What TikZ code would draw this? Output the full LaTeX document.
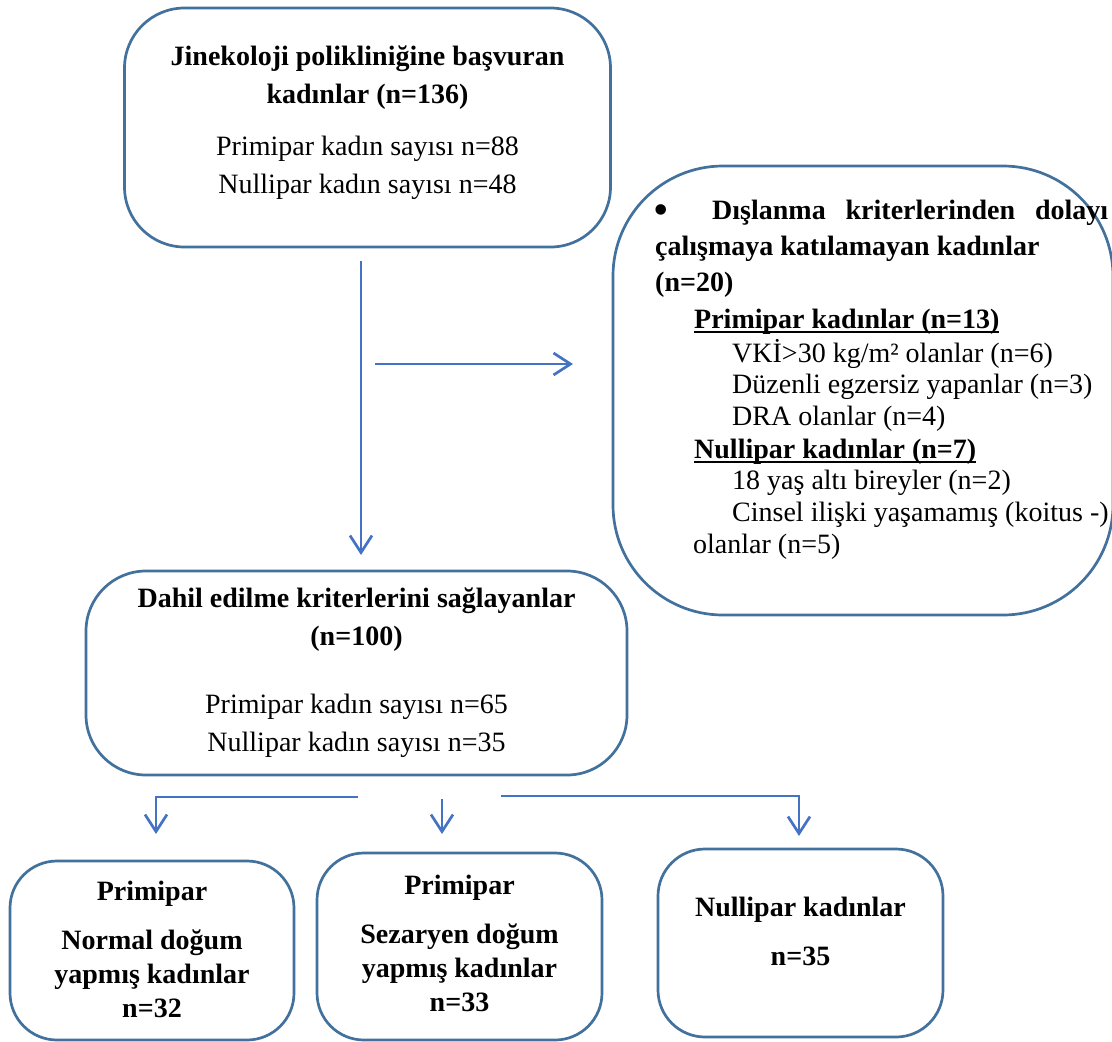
\documentclass[tikz,border=0pt]{standalone}
\usepackage{fontspec}
\setmainfont{Liberation Serif}
\usetikzlibrary{arrows.meta,positioning}
\definecolor{cBox}{HTML}{41719C}
\definecolor{cArr}{HTML}{4472C4}
\tikzset{
  box/.style ={draw=cBox,line width=2.7pt,fill=white,align=center,inner sep=0pt},
  sig/.style ={-{Straight Barb[length=17pt,width=22pt]},draw=cArr,line width=2.7pt},
  lbl/.style ={anchor=base west,inner sep=0pt},
}
\newcommand{\ulbf}[1]{\setbox0\hbox{\bfseries #1}\rlap{\rule[-4.5pt]{\wd0}{1.8pt}}\box0}

\begin{document}
\begin{tikzpicture}[x=1pt,y=-1pt,font=\fontsize{28}{38}\selectfont]
\useasboundingbox (0,0) rectangle (1112,1042);

% ---------------- main boxes ----------------------------------------------
\node[box,minimum width=486pt,minimum height=239pt,rounded corners=60pt,text depth=15pt]
  (apply) at (367.5,127.5)
  {\textbf{Jinekoloji polikliniğine başvuran}\\\textbf{kadınlar (n=136)}\\[14pt]
   Primipar kadın sayısı n=88\\Nullipar kadın sayısı n=48};
\node[box,minimum width=541pt,minimum height=204pt,rounded corners=60pt]
  (incl) at (356.5,673)
  {\textbf{Dahil edilme kriterlerini sağlayanlar}\\\textbf{(n=100)}\\[30pt]
   Primipar kadın sayısı n=65\\Nullipar kadın sayısı n=35};
\node[box,minimum width=500pt,minimum height=449pt,rounded corners=110pt]
  (excl) at (863,390.5) {};

% ---------------- exclusion text ------------------------------------------
\node[inner sep=0pt,anchor=base] (bul) at (661,224) {\fontsize{44}{44}\selectfont\textbullet};
\node[lbl,font=\fontsize{28}{38}\bfseries] (e0) at (712,219)
  {\makebox[396pt][s]{Dışlanma kriterlerinden dolayı}};
\foreach \i/\x/\y/\t in {%
  1/655/255/{\textbf{çalışmaya katılamayan kadınlar}},
  2/655/291.7/{\textbf{(n=20)}},
  3/694/328/{\ulbf{Primipar kadınlar (n=13)}},
  4/732/362/{VKİ>30 kg/m² olanlar (n=6)},
  5/732/393.5/{Düzenli egzersiz yapanlar (n=3)},
  6/732/425.7/{DRA olanlar (n=4)},
  7/694/458/{\ulbf{Nullipar kadınlar (n=7)}},
  8/732/489.5/{18 yaş altı bireyler (n=2)},
  9/732/521.7/{Cinsel ilişki yaşamamış (koitus -)},
  10/693/553/{olanlar (n=5)}}
  {\node[lbl] (e\i) at (\x,\y) {\t};}

% ---------------- group boxes ---------------------------------------------
\node[box,minimum width=284pt,minimum height=179pt,rounded corners=47pt,
      font=\fontsize{28}{34}\bfseries,text depth=2pt] (normal) at (152,950.5)
  {Primipar\\[15pt]Normal doğum\\yapmış kadınlar\\n=32};
\node[box,minimum width=285pt,minimum height=187pt,rounded corners=47pt,
      font=\fontsize{28}{34}\bfseries,text depth=7pt] (cesar) at (459.5,946.5)
  {Primipar\\[15pt]Sezaryen doğum\\yapmış kadınlar\\n=33};
\node[box,minimum width=285pt,minimum height=188pt,rounded corners=47pt,
      font=\fontsize{28}{34}\bfseries,text depth=24pt] (nulli) at (800.5,943)
  {Nullipar kadınlar\\[15pt]n=35};

% ---------------- connectors ----------------------------------------------
\coordinate (v0) at (361,261);  \coordinate (v1) at (361,555);
\coordinate (h0) at (375,364);  \coordinate (h1) at (573,364);
\draw[sig] (v0) -- (v1);
\draw[sig] (h0) -- (h1);
\coordinate (l0) at (358,797);  \coordinate (l1) at (156,834);
\coordinate (m0) at (442,799);  \coordinate (m1) at (442,834);
\coordinate (r0) at (501,796);  \coordinate (r1) at (799,836);
\draw[sig] (l0) -| (l1);
\draw[sig] (m0) -- (m1);
\draw[sig] (r0) -| (r1);
\end{tikzpicture}
\end{document}
